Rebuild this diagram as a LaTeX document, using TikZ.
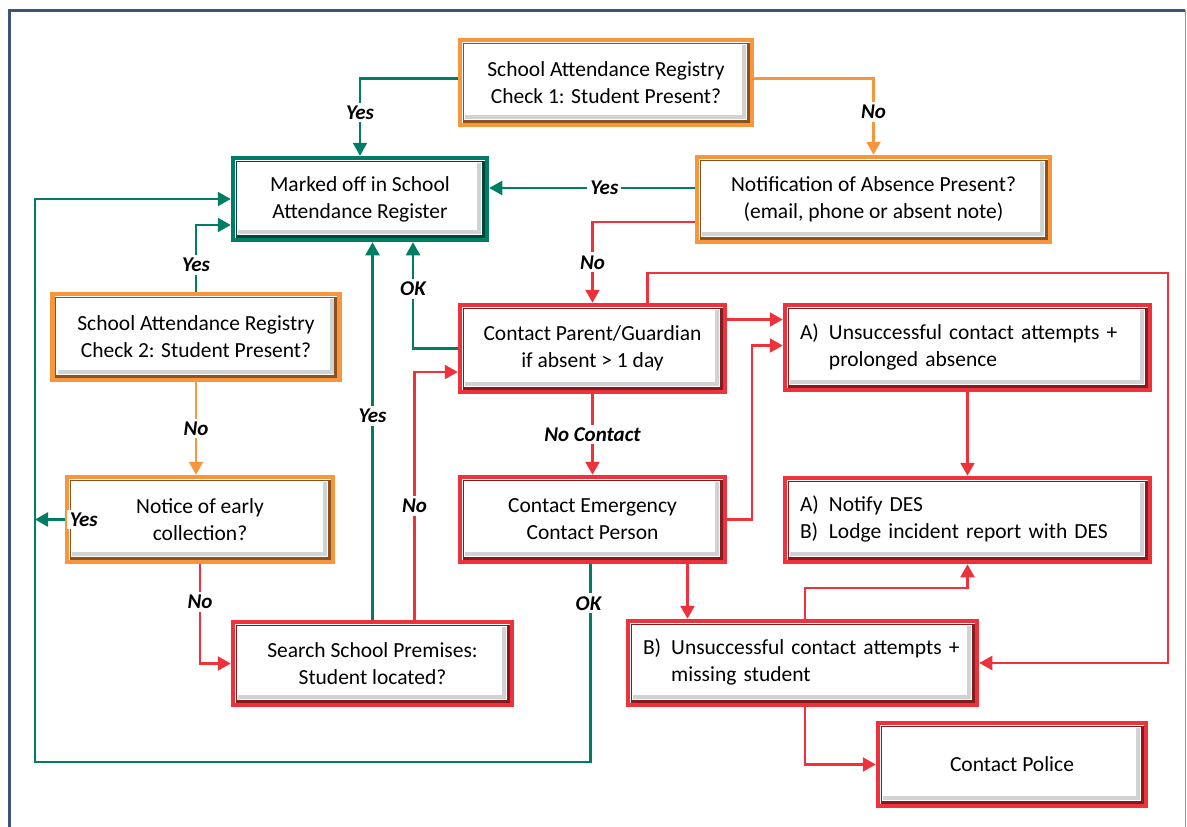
\documentclass[tikz,border=0pt]{standalone}
\usepackage{fontspec}
\setmainfont{Carlito}
\usetikzlibrary{arrows.meta,calc}

\definecolor{gcol}{RGB}{0,125,100}
\definecolor{ocol}{RGB}{247,150,60}
\definecolor{rcol}{RGB}{237,50,60}
\definecolor{framecol}{RGB}{65,82,120}

\tikzset{
    box/.style={draw=#1, line width=4.5pt, fill=white, inner sep=4pt,
	align=center, font=\fontsize{21.5}{27}\selectfont,
	path picture={
	    \draw[gray!35, line width=4pt]
		([xshift=-8pt,yshift=-5pt]path picture bounding box.north east)
		-- ([xshift=-8pt,yshift=8pt]path picture bounding box.south east)
		-- ([xshift=5pt,yshift=8pt]path picture bounding box.south west);
	    \draw[#1!55!black, line width=1pt]
		([xshift=3pt,yshift=-3pt]path picture bounding box.north west)
		rectangle ([xshift=-3pt,yshift=3pt]path picture bounding box.south east);
	    \draw[#1!55!black, line width=3pt]
		([xshift=-4pt,yshift=-2.5pt]path picture bounding box.north east)
		-- ([xshift=-4pt,yshift=4pt]path picture bounding box.south east)
		-- ([xshift=2.5pt,yshift=4pt]path picture bounding box.south west);
	}},
    obox/.style={box=ocol},
    gbox/.style={box=gcol},
    rbox/.style={box=rcol},
    listbox/.style={rbox, align=left, inner xsep=15pt},
    conn/.style={line width=2.3pt, -{Triangle[length=13pt,width=14pt]}},
    gline/.style={conn, gcol},
    oline/.style={conn, ocol},
    rline/.style={conn, rcol},
    lbl/.style={fill=white, inner sep=3pt, text=black,
	font=\fontsize{21}{24}\selectfont\bfseries\itshape},
}

\begin{document}
\begin{tikzpicture}[x=1pt,y=-1pt]
    \useasboundingbox (0,0) rectangle (1187,827);
    % outer frame
    \draw[framecol, line width=3pt] (9,830) -- (9,10) -- (1185,10);
    \draw[framecol!60, line width=1pt] (1185,10) -- (1185,830);

    % boxes
    \node[obox, minimum width=292, minimum height=85] (check1) at (606,82.5)
	{School Attendance Registry\\Check 1: Student Present?};
    \node[gbox, minimum width=254, minimum height=82] (mark) at (360,199)
	{Marked off in School\\Attendance Register};
    \node[obox, minimum width=353, minimum height=85] (notif) at (873.5,199.5)
	{Notification of Absence Present?\\(email, phone or absent note)};
    \node[obox, minimum width=287, minimum height=86] (check2) at (196,337)
	{School Attendance Registry\\Check 2: Student Present?};
    \node[obox, minimum width=266, minimum height=85] (notice) at (200,519.5)
	{Notice of early\\collection?};
    \node[rbox, minimum width=279, minimum height=83] (search) at (372.5,663.5)
	{Search School Premises:\\Student located?};
    \node[rbox, minimum width=265, minimum height=87] (parent) at (592.5,348.5)
	{Contact Parent/Guardian\\if absent > 1 day};
    \node[rbox, minimum width=265, minimum height=85] (emerg) at (592.5,519.5)
	{Contact Emergency\\Contact Person};
    \node[listbox, text width=335, minimum height=85] (unsA) at (967.5,347.5)
	{\begin{tabular}{@{}l@{\hspace{10pt}}l@{}}A) & Unsuccessful contact attempts +\\ & prolonged absence\end{tabular}};
    \node[listbox, text width=335, minimum height=84] (notify) at (967.5,520)
	{\begin{tabular}{@{}l@{\hspace{10pt}}l@{}}A) & Notify DES\\B) & Lodge incident report with DES\end{tabular}};
    \node[listbox, text width=319, minimum height=84] (unsB) at (802.5,663)
	{\begin{tabular}{@{}l@{\hspace{10pt}}l@{}}B) & Unsuccessful contact attempts +\\ & missing student\end{tabular}};
    \node[rbox, minimum width=268, minimum height=83] (police) at (1012,764.5)
	{Contact Police};
    \coordinate (okcorner) at (35,762);

    % connectors
    \draw[gline] ([yshift=4pt]check1.west) -| (mark.north) node[lbl,pos=0.72] {Yes};
    \draw[oline] ([yshift=4pt]check1.east) -| (notif.north) node[lbl,pos=0.72] {No};
    \draw[gline] ([yshift=11.5pt]notif.west) -- ([yshift=11.5pt]notif.west -| mark.east)
	node[lbl,pos=0.44] {Yes};
    \draw[rline] ([yshift=-22.5pt]notif.west) -| (parent.north) node[lbl,pos=0.75] {No};
    \draw[rline] ([xshift=55pt]parent.north) |- (1168,273) |- (unsB.east);
    \draw[rline] ([yshift=29pt]parent.east) -- ([yshift=29pt]parent.east -| unsA.west);
    \draw[rline] (emerg.east) -- ++(25,0) |- ([yshift=2pt]unsA.west);
    \draw[gline] (parent.west) -| ([xshift=53pt]mark.south) node[lbl,pos=0.78] {OK};
    \draw[rline] (parent.south) -- (emerg.north) node[lbl,midway] {No Contact};
    \draw[gline] (check2.north) |- ([yshift=-26pt]mark.west) node[lbl,pos=0.2] {Yes};
    \draw[oline] (check2.south) -- (check2.south |- notice.north) node[lbl,midway] {No};
    \draw[gline] (notice.west) -- (notice.west -| okcorner);
    \node[lbl] (yesleft) at ([xshift=19pt]notice.west) {Yes};
    \draw[rline] (notice.south) |- (search.west) node[lbl,pos=0.19] {No};
    \draw[gline] (search.north) -- (search.north |- mark.south) node[lbl,pos=0.54] {Yes};
    \draw[rline] ([xshift=42pt]search.north) |- ([yshift=-23.5pt]parent.west) node[lbl,pos=0.23] {No};
    \draw[gline] ([xshift=-2pt]emerg.south) |- (okcorner) |- (mark.west);
    \node[lbl] (okmid) at ([yshift=-39pt,xshift=-4pt]emerg.south) {OK};
    \draw[rline] ([xshift=95pt]emerg.south) -- ([xshift=95pt]emerg.south |- unsB.north);
    \draw[rline] ([xshift=2.5pt]unsB.north) -- ++(0,-31) -| (notify.south);
    \draw[rline] (unsA.south) -- (notify.north);
    \draw[rline] ([xshift=2.5pt]unsB.south) |- (police.west);
\end{tikzpicture}
\end{document}
